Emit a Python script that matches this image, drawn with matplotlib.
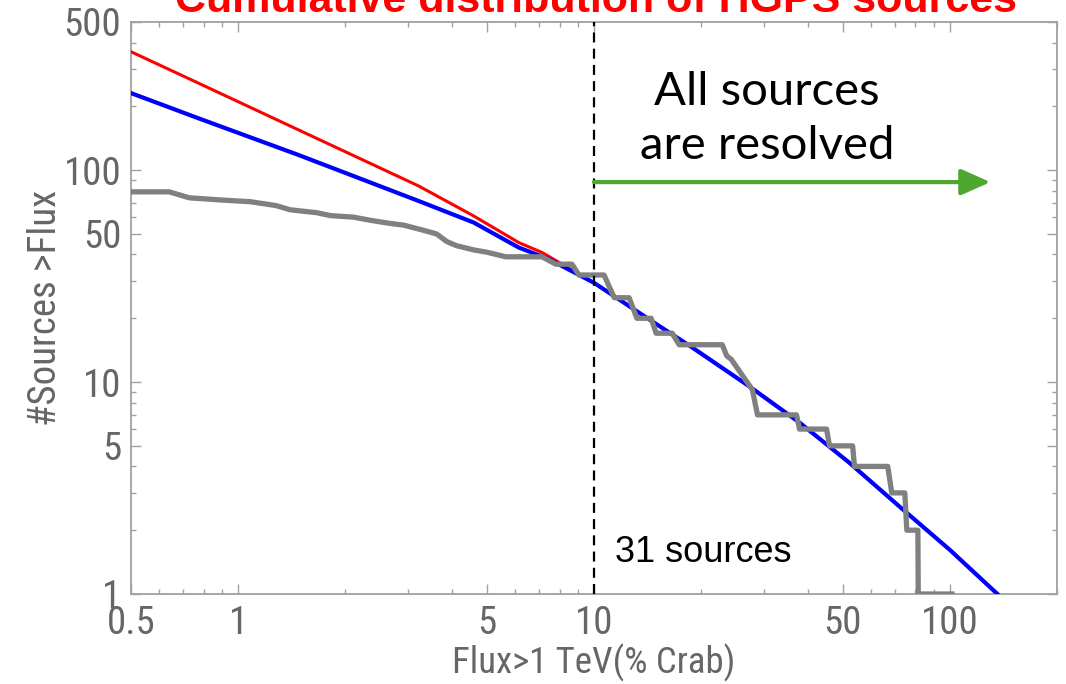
import matplotlib
matplotlib.use("Agg")
import matplotlib.pyplot as plt
from matplotlib import font_manager
from matplotlib.ticker import FixedLocator, FixedFormatter, NullFormatter

# data
flux_obs = [0.49, 0.64, 0.73, 0.93, 1.08, 1.28, 1.40, 1.66, 1.82, 2.11, 2.35, 2.68,
            2.92, 3.32, 3.61, 3.86, 4.11, 4.6, 5.0, 5.65, 7.14, 7.81, 8.67, 9.07,
            10.67, 11.4, 12.55, 13.2, 14.47, 14.95, 16.59, 17.35, 22.94, 23.6,
            24.3, 27.86, 28.8, 37.07, 37.8, 45.03, 45.9, 53.3, 53.95, 66.9, 68.65,
            74.7, 75.7, 81.3, 81.5, 101.3]
count_obs = [79, 79, 74, 72, 71, 68, 65, 63, 61, 60, 58, 56,
             55, 52, 50, 46, 44, 42, 41, 39, 39, 36, 36, 32,
             32, 25, 25, 20, 20, 17, 17, 15, 15, 13.3,
             12.8, 9.2, 7, 7, 6, 6, 5, 5, 4, 4, 3,
             3, 2, 2, 1, 1]

flux_blue = [0.493, 0.771, 1.476, 3.21, 4.59, 6.15, 7.47, 10, 14.29, 18.88, 27.3,
             37.8, 52.2, 72.3, 100, 136]
count_blue = [233, 176, 118, 71.6, 56.6, 43.1, 38.0, 29.4, 19.75, 14.56, 9.55,
              6.44, 4.16, 2.58, 1.615, 1.0]

flux_red = [0.493, 0.771, 1.476, 3.21, 4.59, 6.15, 7.14, 10, 14.29, 18.88, 27.3,
            37.8, 52.2, 72.3, 100, 136]
count_red = [366, 258, 155, 84.3, 60.8, 45.5, 40.9, 29.4, 19.75, 14.56, 9.55,
             6.44, 4.16, 2.58, 1.615, 1.0]

x_major = [0.5, 1, 5, 10, 50, 100]
x_labels = ["0.5", "1", "5", "10", "50", "100"]
x_minor = [0.6, 0.7, 0.8, 0.9, 2, 3, 4, 6, 7, 8, 9, 20, 30, 40, 60, 70, 80, 90, 200]
y_major = [1, 5, 10, 50, 100, 500]
y_labels = ["1", "5", "10", "50", "100", "500"]
y_minor = [2, 3, 4, 6, 7, 8, 9, 20, 30, 40, 60, 70, 80, 90, 200, 300, 400]

n_resolved = 31
arrow_y = 87.8
arrow_x = [10, 130]

# condensed font if there is one, else plain DejaVu a bit smaller
names = {f.name for f in font_manager.fontManager.ttflist}
narrow, k = ["DejaVu Sans"], 0.74
for cand in ["Liberation Sans Narrow", "DejaVu Sans Condensed", "Roboto Condensed",
             "Open Sans Condensed", "Noto Sans Condensed"]:
    if cand in names:
        narrow, k = [cand, "DejaVu Sans"], 1.0
        break

grey_txt = "#666666"
frame = "#a0a0a0"

fig = plt.figure(figsize=(10.66, 6.84), dpi=100)
ax = fig.add_axes([131 / 1066, 90 / 684, 926 / 1066, 572 / 684])

ax.plot(flux_red, count_red, color="#ff0000", lw=2.2, zorder=3)
ax.plot(flux_blue, count_blue, color="#0000ff", lw=3.0, zorder=4)
ax.plot(flux_obs, count_obs, color="#808080", lw=3.8, zorder=5,
        solid_joinstyle="round")

ax.set_xscale("log")
ax.set_yscale("log")
ax.set_xlim(0.5, 200)
ax.set_ylim(1, 500)

ax.axvline(10, color="black", lw=1.6, ls=(0, (4.5, 2.8)), zorder=6)
ax.annotate("", xy=(arrow_x[1], arrow_y), xytext=(arrow_x[0], arrow_y),
            arrowprops=dict(arrowstyle="-|>,head_length=0.9,head_width=0.4",
                            color="#4ea72e", lw=3, mutation_scale=20,
                            shrinkA=0, shrinkB=0), zorder=7)

ax.xaxis.set_major_locator(FixedLocator(x_major))
ax.xaxis.set_major_formatter(FixedFormatter(x_labels))
ax.xaxis.set_minor_locator(FixedLocator(x_minor))
ax.xaxis.set_minor_formatter(NullFormatter())
ax.yaxis.set_major_locator(FixedLocator(y_major))
ax.yaxis.set_major_formatter(FixedFormatter(y_labels))
ax.yaxis.set_minor_locator(FixedLocator(y_minor))
ax.yaxis.set_minor_formatter(NullFormatter())

ax.tick_params(which="both", direction="in", top=True, right=True,
               color=frame, width=1)
ax.tick_params(which="major", length=7)
ax.tick_params(which="minor", length=3.5)
ax.tick_params(axis="x", which="major", pad=8, labelcolor=grey_txt)
ax.tick_params(axis="y", which="major", pad=7, labelcolor=grey_txt)
for lab in ax.get_xticklabels() + ax.get_yticklabels():
    lab.set_family(narrow)
    lab.set_fontsize(28 * k)
for s in ax.spines.values():
    s.set_color(frame)
    s.set_linewidth(1.3)

ax.set_xlabel("Flux>1 TeV(% Crab)", family=narrow, fontsize=26.5 * k,
              color=grey_txt, labelpad=1)
ax.set_ylabel("#Sources >Flux", family=narrow, fontsize=28 * k,
              color=grey_txt, labelpad=0)

ax.text(0.687, 0.915, "All sources\nare resolved", transform=ax.transAxes,
        ha="center", va="top", fontsize=34, family=["Lato", "DejaVu Sans"],
        color="black", linespacing=1.36)
ax.text(11.46, 1.416, f"{n_resolved} sources", fontsize=26,
        family=["Liberation Sans", "DejaVu Sans"], color="black",
        ha="left", va="baseline")

fig.text(596 / 1066, 1 - 12 / 684, "Cumulative distribution of HGPS sources",
         ha="center", va="baseline", fontsize=31, fontweight="bold",
         color="#ff0000", family=["Liberation Sans", "DejaVu Sans"])

fig.savefig("out.png", dpi=100)
